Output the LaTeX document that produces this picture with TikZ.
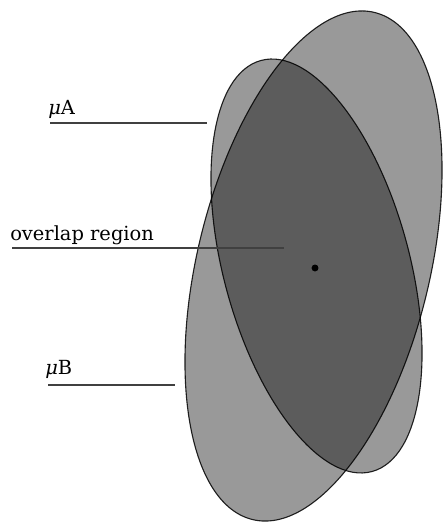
\documentclass[tikz,border=0pt]{standalone}
\usepackage{fontspec}
\setmainfont{DejaVu Serif}
\usetikzlibrary{positioning}

\begin{document}
\begin{tikzpicture}[
  x=0.72pt, y=0.72pt,
  font=\fontsize{14}{16}\selectfont,
  blob/.style={fill=black, fill opacity=0.4, draw=black, draw opacity=0.85, line width=0.8pt},
  lbl/.style={anchor=base west, inner sep=0pt},
  lead/.style={draw=black!75, line width=1pt}
]
\useasboundingbox (0,0) rectangle (443,527);

\draw[blob, rotate around={-13.5:(313.5,261)}] (313.5,261) ellipse [x radius=116.4, y radius=260.8];
\draw[blob, rotate around={15.1:(316.5,261)}] (316.5,261) ellipse [x radius=93, y radius=212.9];

\node[circle, fill=black, inner sep=0pt, minimum size=5pt] (mid) at (315,259) {};

\node[lbl] (muA) at (48,412) {{\itshape μ}A};
\node[lbl] (ovl) at (10,286) {overlap region};
\node[lbl] (muB) at (45,152) {{\itshape μ}B};

\coordinate (a1) at (50,404);
\coordinate (a2) at (207,404);
\coordinate (o1) at (12,279);
\coordinate (o2) at (284,279);
\coordinate (b1) at (48,142);
\coordinate (b2) at (175,142);

\draw[lead] (a1) -- (a2);
\draw[lead] (o1) -- (o2);
\draw[lead] (b1) -- (b2);
\end{tikzpicture}
\end{document}
